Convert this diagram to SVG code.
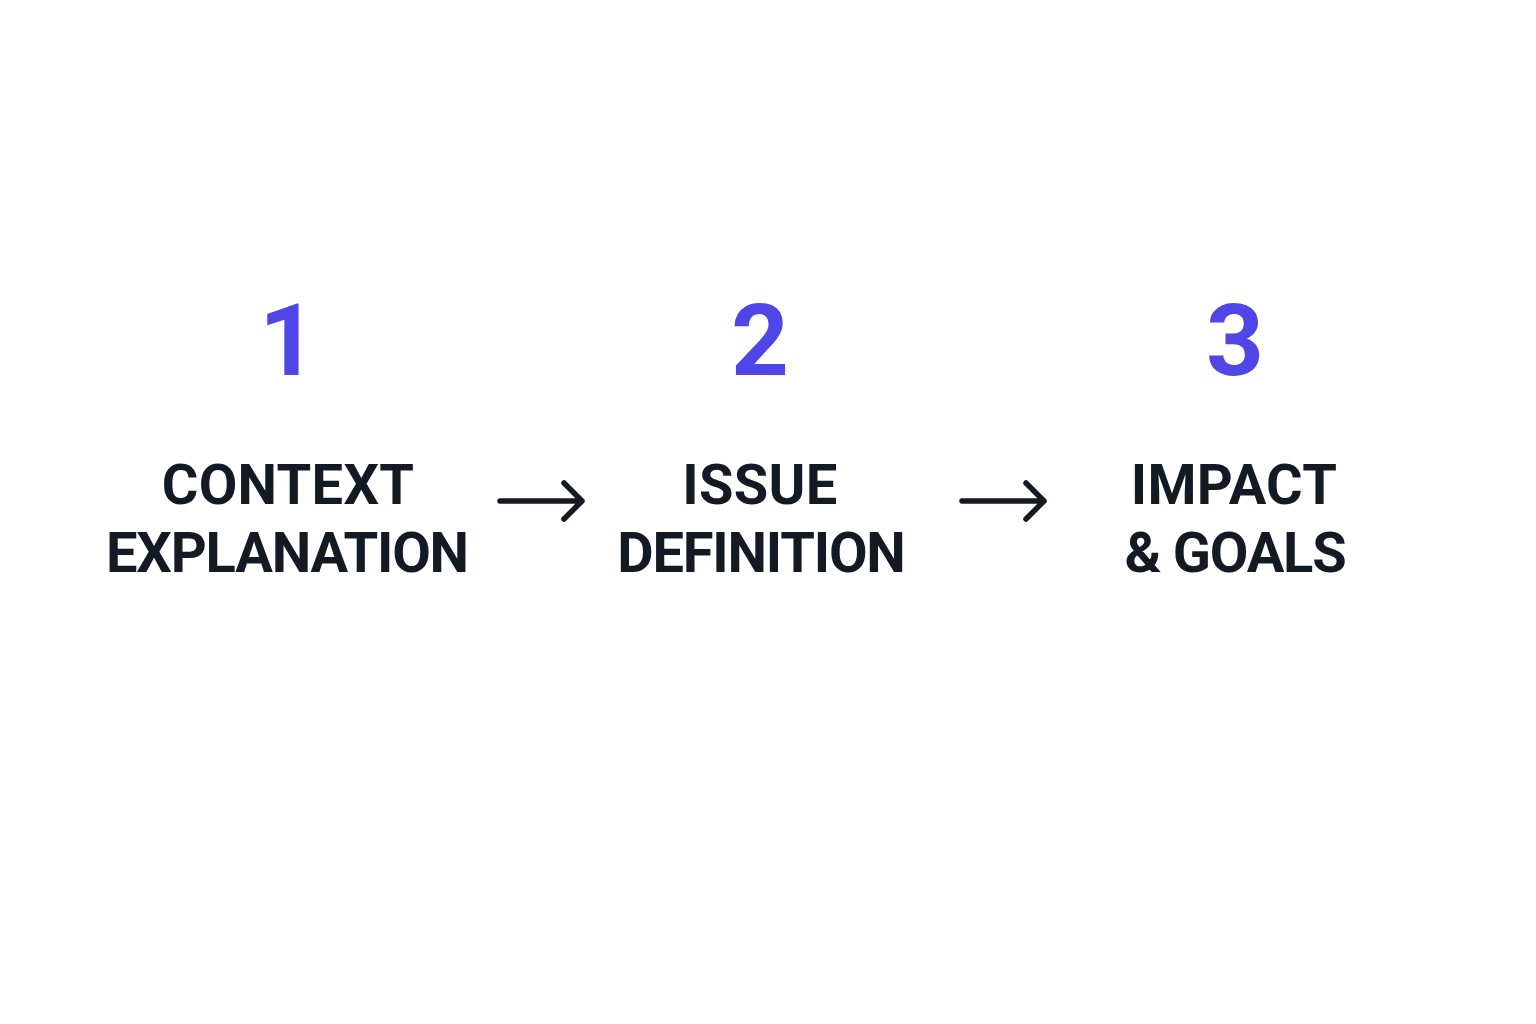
<svg xmlns="http://www.w3.org/2000/svg" width="1536" height="1024" viewBox="0 0 1536 1024">
<style>
.num{font-family:Roboto,"Liberation Sans",sans-serif;font-weight:700;font-size:101px;fill:#5046E8;text-anchor:middle}
.lbl{font-family:Roboto,"Liberation Sans",sans-serif;font-weight:700;font-size:56px;letter-spacing:-1.2px;fill:#141A23;text-anchor:middle}
.top{letter-spacing:0.3px}
.arr{fill:none;stroke:#141A23;stroke-width:5.5;stroke-linecap:round;stroke-linejoin:round}
</style>
<rect width="1536" height="1024" fill="#FFFFFF"/>
<g id="step1">
<text class="num" x="288" y="375">1</text>
<text class="lbl top" x="288" y="504">CONTEXT</text>
<text class="lbl" x="287" y="572">EXPLANATION</text>
</g>
<g id="step2">
<text class="num" x="760" y="375">2</text>
<text class="lbl top" x="760" y="504">ISSUE</text>
<text class="lbl" x="761" y="572">DEFINITION</text>
</g>
<g id="step3">
<text class="num" x="1235" y="375">3</text>
<text class="lbl top" x="1234" y="504">IMPACT</text>
<text class="lbl" x="1235" y="572">&amp; GOALS</text>
</g>
<g id="connectors">
<path class="arr" d="M500 501 H582 M564 483 L582 501 L564 519"/>
<path class="arr" d="M962 501 H1044 M1026 483 L1044 501 L1026 519"/>
</g>
</svg>
